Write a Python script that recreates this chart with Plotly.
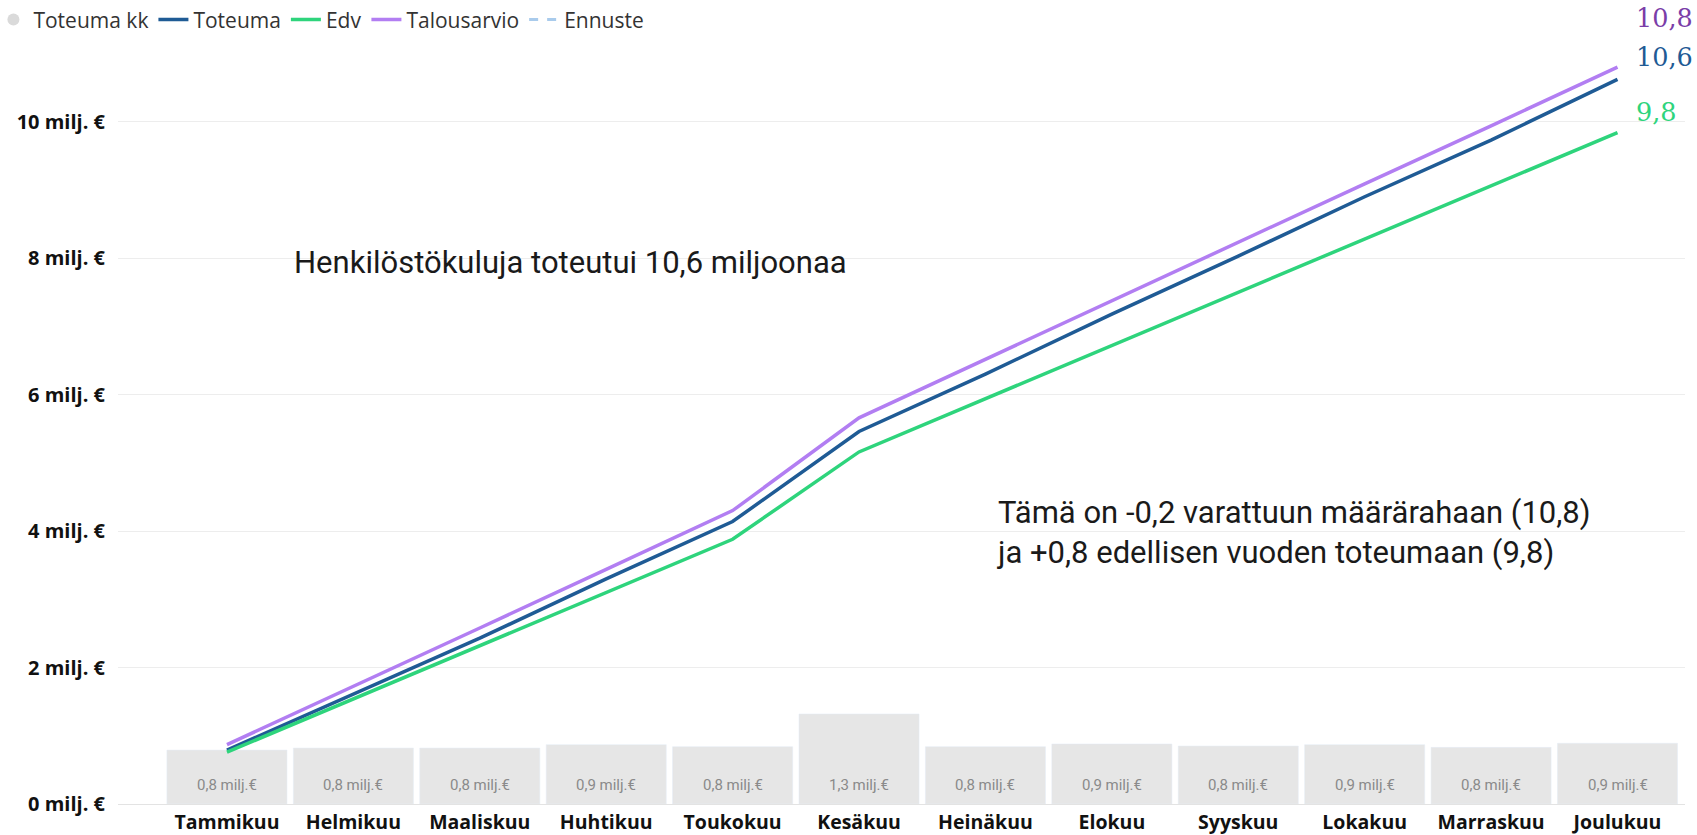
import plotly.graph_objects as go

# Kuukaudet ja arvot (milj. €)
months = ["Tammikuu", "Helmikuu", "Maaliskuu", "Huhtikuu", "Toukokuu", "Kesäkuu",
          "Heinäkuu", "Elokuu", "Syyskuu", "Lokakuu", "Marraskuu", "Joulukuu"]
toteuma_kk = [0.79, 0.82, 0.82, 0.87, 0.84, 1.32, 0.84, 0.88, 0.85, 0.87, 0.83, 0.89]
toteuma = [0.79, 1.61, 2.43, 3.30, 4.14, 5.46, 6.30, 7.18, 8.03, 8.90, 9.73, 10.62]
edv = [0.76, 1.54, 2.32, 3.10, 3.88, 5.16, 5.94, 6.72, 7.50, 8.28, 9.06, 9.84]
talousarvio = [0.87, 1.72, 2.58, 3.44, 4.30, 5.66, 6.52, 7.38, 8.24, 9.09, 9.94, 10.80]
ennuste = [None] * 12

y_ticks = [0, 2, 4, 6, 8, 10]
y_tick_labels = [f"{v} milj. €" for v in y_ticks]

C_BAR = "#E6E6E6"
C_TOT = "#1F5B95"
C_EDV = "#2ED47C"
C_TA = "#B27EF2"
C_ENN = "#A9CBEC"

UI_FONT = "Open Sans, Noto Sans, sans-serif"
TEXT_FONT = "Roboto, Liberation Sans, sans-serif"


def fi(v):
    return f"{v:.1f}".replace(".", ",")


fig = go.Figure()

fig.add_trace(go.Bar(
    x=months, y=toteuma_kk, name="Toteuma kk", marker_color=C_BAR,
    showlegend=False, hoverinfo="skip",
))
# legend entry with a round marker for the monthly bars
fig.add_trace(go.Scatter(
    x=[None], y=[None], mode="markers", name="Toteuma kk",
    marker=dict(symbol="circle", size=12, color="#DADADA"),
))
fig.add_trace(go.Scatter(x=months, y=toteuma, mode="lines", name="Toteuma",
                         line=dict(color=C_TOT, width=3.5)))
fig.add_trace(go.Scatter(x=months, y=edv, mode="lines", name="Edv",
                         line=dict(color=C_EDV, width=3.5)))
fig.add_trace(go.Scatter(x=months, y=talousarvio, mode="lines", name="Talousarvio",
                         line=dict(color=C_TA, width=3.5)))
fig.add_trace(go.Scatter(x=months, y=ennuste, mode="lines", name="Ennuste",
                         line=dict(color=C_ENN, width=3, dash="dash")))

annotations = []
# monthly values inside the bars
for m, v in zip(months, toteuma_kk):
    annotations.append(dict(
        x=m, y=0, xref="x", yref="y", text=f"{fi(v)} milj.€", showarrow=False,
        yanchor="middle", yshift=19,
        font=dict(family=TEXT_FONT, size=15, color="#8A8A8A"),
    ))

# year-end totals at the right edge
for val, col, ypos in [(talousarvio[-1], "#7A3DA8", 1.0198),
                       (toteuma[-1], "#1F5B95", 0.9692),
                       (edv[-1], "#2ED47C", 0.8979)]:
    annotations.append(dict(
        x=0.9675, y=ypos, xref="paper", yref="paper", text=fi(val),
        showarrow=False, xanchor="left", yanchor="middle",
        font=dict(family="DejaVu Serif, Liberation Serif, serif", size=25.5,
                  color=col),
    ))

annotations.append(dict(
    x=0.1110, y=0.7018, xref="paper", yref="paper",
    text=f"Henkilöstökuluja toteutui {fi(toteuma[-1])} miljoonaa",
    showarrow=False, xanchor="left", yanchor="middle",
    font=dict(family=TEXT_FONT, size=31, color="#1A1A1A"),
))
annotations.append(dict(
    x=0.5597, y=0.3515, xref="paper", yref="paper",
    text=(f"Tämä on -0,2 varattuun määrärahaan ({fi(talousarvio[-1])})<br>"
          f"ja +0,8 edellisen vuoden toteumaan ({fi(edv[-1])})"),
    showarrow=False, xanchor="left", yanchor="middle", align="left",
    font=dict(family=TEXT_FONT, size=31, color="#1A1A1A"),
))

fig.update_layout(
    width=1697, height=835,
    margin=dict(l=118, r=12, t=33, b=31, autoexpand=False),
    paper_bgcolor="white", plot_bgcolor="white",
    separators=", ",
    bargap=0.05,
    font=dict(family=UI_FONT, color="#222222"),
    showlegend=True,
    legend=dict(
        orientation="h", x=-0.0795, y=1.017, xanchor="left", yanchor="middle",
        font=dict(family=UI_FONT, size=21, color="#333333"),
        itemwidth=30, bgcolor="rgba(0,0,0,0)", traceorder="normal",
    ),
    annotations=annotations,
    xaxis=dict(
        range=[-0.862, 11.534], showgrid=False, zeroline=False, showline=False,
        tickfont=dict(family=UI_FONT, size=19.5, color="#111111", weight="bold"),
        ticks="", fixedrange=True, automargin=False, ticklabelstandoff=4,
    ),
    yaxis=dict(
        range=[0, 11.3], tickvals=y_ticks, ticktext=y_tick_labels,
        showgrid=True, gridcolor="#EDEDED", gridwidth=1,
        zeroline=True, zerolinecolor="#E3E3E3", zerolinewidth=1,
        showline=False, ticks="", ticklabelstandoff=12, automargin=False,
        tickfont=dict(family=UI_FONT, size=20, color="#111111", weight="bold"),
    ),
)

fig.write_html("out.html")
